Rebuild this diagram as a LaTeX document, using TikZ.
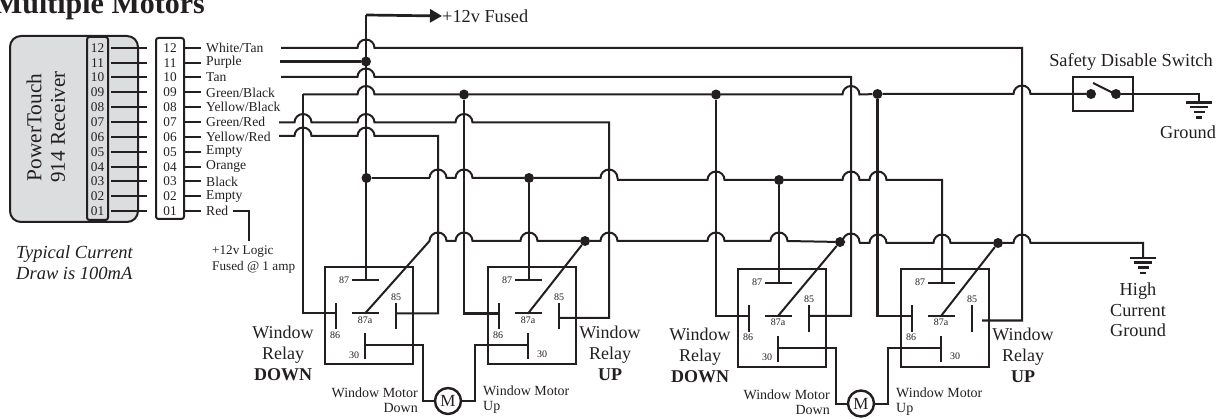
\documentclass[tikz,border=0pt]{standalone}
\usepackage{fontspec}
\setmainfont{Liberation Serif}
\usetikzlibrary{arrows.meta}
\definecolor{ink}{HTML}{231F20}
\definecolor{boxgray}{HTML}{DCDDDE}
\newcommand{\fs}[1]{\fontsize{#1}{#1}\selectfont}
\newcommand{\hp}[2]{-- (#1-8.5,#2) arc[start angle=180,end angle=360,radius=8.5]}
\tikzset{
  wire/.style={draw=ink,line width=2pt,line join=miter},
  heavy/.style={draw=ink,line width=2.4pt},
  dot/.style={circle,fill=ink,inner sep=0pt,minimum size=10pt},
  txt/.style={text=ink,inner sep=0pt,font=\fs{13.6}},
  pinlab/.style={text=ink,inner sep=0pt,font=\fs{10}},
  biglab/.style={text=ink,inner sep=0pt,align=center,font=\fontsize{18}{21}\selectfont},
  motorlab/.style={text=ink,inner sep=0pt,font=\fontsize{14}{15}\selectfont},
  num/.style={text=ink,inner sep=0pt,font=\fs{13.3}},
  gndbar/.style={draw=ink,line width=2.2pt},
  relaybox/.style={draw=ink,line width=2pt,minimum width=88pt,minimum height=97pt,inner sep=0pt},
}
% #1 name, #2 left, #3 top, #4 x of 30 label offset, #5 y of 30 label offset
\newcommand{\relay}[5]{%
  \node[relaybox,anchor=north west] (#1) at (#2,#3) {};
  \coordinate (#1-87) at (#2+42,#3+14.5);
  \coordinate (#1-87a) at (#2+41,#3+47.5);
  \coordinate (#1-85) at (#2+72,#3+47.5);
  \coordinate (#1-86) at (#2+12,#3+47.5);
  \coordinate (#1-30) at (#2+41,#3+79);
  \draw[wire] (#2+28,#3+14.5) -- (#2+55,#3+14.5);
  \draw[wire] (#2+28,#3+47.5) -- (#2+55,#3+47.5);
  \draw[heavy,line width=2.2pt] (#2+72,#3+37) -- (#2+72,#3+63);
  \draw[heavy,line width=2.2pt] (#2+12,#3+37) -- (#2+12,#3+63);
  \draw[heavy,line width=2.2pt] (#2+41,#3+67) -- (#2+41,#3+93);
  \node[pinlab] (#1-l87) at (#2+20,#3+14) {87};
  \node[pinlab] (#1-l87a) at (#2+41,#3+54) {87a};
  \node[pinlab] (#1-l85) at (#2+72,#3+31) {85};
  \node[pinlab] (#1-l86) at (#2+11,#3+69) {86};
  \node[pinlab] (#1-l30) at (#2+#4,#3+#5) {30};
}
\newcommand{\gnd}[3]{%
  \coordinate (#1) at (#2,#3);
  \draw[gndbar] (#2-13,#3) -- (#2+13,#3);
  \draw[gndbar] (#2-9,#3+4.5) -- (#2+9,#3+4.5);
  \draw[gndbar] (#2-5.5,#3+9.5) -- (#2+5.5,#3+9.5);
  \draw[gndbar] (#2-3.3,#3+15) -- (#2+3.3,#3+15);
}
\begin{document}
\begin{tikzpicture}[x=1pt,y=-1pt]
\useasboundingbox (0,0) rectangle (1225,419);

\node[text=ink,inner sep=0pt,anchor=base east,font=\fs{30}\bfseries] (title) at (205,14) {Multiple Motors};

% receiver
\draw[draw=ink,fill=boxgray,line width=2pt,rounded corners=11pt] (10,36) rectangle (138,222);
\node[draw=ink,line width=2pt,rounded corners=2.5pt,minimum width=21pt,minimum height=183pt,inner sep=0pt] (lbox) at (97.5,128.5) {};
\node[draw=ink,line width=2pt,rounded corners=2.5pt,fill=white,minimum width=28pt,minimum height=181pt,inner sep=0pt] (rbox) at (170,128.5) {};
\node[text=ink,inner sep=0pt,rotate=90,font=\fs{21.3}] (rx1) at (34,127.5) {PowerTouch};
\node[text=ink,inner sep=0pt,rotate=90,font=\fs{21}] (rx2) at (58,127) {914 Receiver};

\foreach \n/\rn/\w/\y in {12/12/White\slash Tan/48,11/11/Purple/62.7,10/10/Tan/77.5,09/09/Green\slash Black/92.5,08/08/Yellow\slash Black/107.2,07/07/Green\slash Red/122,06/06/Yellow\slash Red/137,05/05/Empty/152,04/04/Orange/166.7,03/03/Black/181.5,02/02/Empty/196.5,01/01/Red/211}{
  \node[num,minimum width=21pt] (l\n) at (97.5,\y) {\n};
  \node[num,minimum width=28pt] (r\n) at (170,\y) {\rn};
  \node[txt,anchor=west] (lab\n) at (206,\y) {\w};
  \draw[wire,shorten <=3pt,shorten >=9pt] (l\n.east) -- (r\n.west);
  \draw[wire,shorten >=5pt] (r\n.east) -- (lab\n.west);
}
\coordinate (logicend) at (249,241);
\draw[wire,shorten <=5pt] (lab01.east) -| (logicend);

% relays
\relay{Ra}{324}{266}{30}{89}
\relay{Rb}{487}{266}{55}{88}
\relay{Rc}{737}{268.5}{30}{89}
\relay{Rd}{900}{268.5}{55}{88}

% junctions
\node[dot] (jp) at (366,61.5) {};
\node[dot] (jl) at (366.5,178) {};
\node[dot] (jg1) at (464,94.5) {};
\node[dot] (jg2) at (716,94.5) {};
\node[dot] (jg3) at (877.5,94) {};
\node[dot] (jl2) at (529,178) {};
\node[dot] (jl3) at (779,180) {};
\node[dot] (jc2) at (585,241) {};
\node[dot] (jc3) at (840,242) {};
\node[dot] (jc4) at (998,243) {};

% switch and fused output
\node[draw=ink,line width=2pt,minimum width=60pt,minimum height=34pt,inner sep=0pt] (sw) at (1103,94) {};
\node[dot] (sa) at (1091,94) {};
\node[dot] (sb) at (1116,94) {};
\draw[wire] (1093,83) -- (1113,93);
\node[text=ink,inner sep=0pt,font=\fs{18.4}] (swl) at (1131,62) {Safety Disable Switch};
\node[text=ink,inner sep=0pt,anchor=west,font=\fs{18.3}] (fused) at (442,16) {+12v Fused};

% grounds
\gnd{gA}{1199}{102.5}
\gnd{gB}{1143}{258}
\node[text=ink,inner sep=0pt,font=\fs{18.3}] (gl1) at (1188,132) {Ground};
\node[text=ink,inner sep=0pt,align=center,font=\fontsize{18.3}{20.5}\selectfont] (gl2) at (1138,310) {High\\Current\\Ground};

% verticals from the power rails
\draw[heavy,line width=2.2pt] (Ra-87) -- (366,15);
\draw[heavy,line width=2.7pt,-{Triangle[length=12pt,width=13pt]}] (366,15) -- (fused.west);
\draw[heavy,line width=2.8pt] (jp) -- (280,61.5);
\draw[heavy] (jg1) -- (464,313.5) -- (Rb-86);
\draw[wire] (303,94.5) -- (303,313.5) -- (Ra-86);
\draw[heavy] (jg2) -- (716,316) -- (Rc-86);
\draw[heavy] (jg3) -- (877.5,316) -- (Rd-86);
\draw[heavy] (jl2) -- (Rb-87);
\draw[heavy] (jl3) -- (Rc-87);

% horizontal harness
\coordinate (wt) at (281,48);
\coordinate (rd85) at (982,320.5);
\draw[wire] (wt) \hp{366}{48} -- (1022,48) -- (1022,320.5) -- (rd85);
\coordinate (tn) at (281,77);
\draw[wire] (tn) \hp{366}{77} -- (851,77) -- (851,316) -- (Rc-85);
\draw[wire] (303,94.5) \hp{366}{94.5} -- (jg1) -- (jg2) \hp{851}{94.5} -- (jg3) \hp{1022}{94} -- (sa);
\draw[heavy,line width=2.7pt] (1030.5,94) -- (sa);
\draw[wire] (sb) -- (1199,94) -- (gA);
\coordinate (gr) at (279,122.5);
\draw[wire] (gr) \hp{303}{122.5} \hp{366}{122.5} \hp{464}{122.5} -- (609,122.5) -- (609,318) -- (559,318);
\coordinate (yr) at (279,136);
\draw[wire] (yr) \hp{303}{136} \hp{366}{136} -- (438,136) -- (438,313.5) -- (Ra-85);
\draw[heavy,line width=2.7pt] (jl) -- (429.5,178);
\draw[wire] (429.5,178) \hp{438}{178} \hp{464}{178} -- (jl2) \hp{609}{178} -- (618,180) \hp{716}{180} -- (jl3) \hp{851}{180} \hp{878}{180} -- (942,180) -- (Rd-87);
\draw[wire] (Ra-87a) -- (429.5,241) \hp{438}{241} \hp{464}{241} \hp{529}{241} -- (jc2) \hp{609}{241} \hp{716}{241} \hp{779}{241} -- (jc3) \hp{851}{242} -- (860,243) \hp{878}{243} \hp{942}{243} -- (jc4) \hp{1022}{243} -- (1143,243) -- (gB);
\draw[wire] (Rb-87a) -- (jc2);
\draw[wire] (Rc-87a) -- (jc3);
\draw[wire] (Rd-87a) -- (jc4);

% motors
\node[circle,draw=ink,line width=2.4pt,minimum size=26pt,inner sep=0pt,text=ink,font=\fs{17}] (M1) at (448,401) {M};
\node[circle,draw=ink,line width=2.4pt,minimum size=26pt,inner sep=0pt,text=ink,font=\fs{17}] (M2) at (861,403.5) {M};
\draw[wire] (Ra-30) -- (423,345) |- (M1.west);
\draw[wire] (Rb-30) -- (475,345) |- (M1.east);
\draw[wire] (Rc-30) -- (836,347.5) |- (M2.west);
\draw[wire] (Rd-30) -- (888,347.5) |- (M2.east);

% labels
\node[biglab] (wa) at (283,353) {Window\\Relay\\\textbf{DOWN}};
\node[biglab] (wb) at (610,353) {Window\\Relay\\\textbf{UP}};
\node[biglab] (wc) at (700,355) {Window\\Relay\\\textbf{DOWN}};
\node[biglab] (wd) at (1023,355) {Window\\Relay\\\textbf{UP}};
\node[motorlab,align=right,anchor=east] (ma) at (418,400) {Window Motor\\Down};
\node[motorlab,align=left,anchor=west] (mb) at (483,400) {Window Motor\\Up};
\node[motorlab,align=right,anchor=east] (mc) at (830,402) {Window Motor\\Down};
\node[motorlab,align=left,anchor=west] (md) at (896,402) {Window Motor\\Up};
\node[text=ink,inner sep=0pt,align=left,anchor=west,font=\fontsize{18.5}{21}\selectfont\itshape] (tc) at (16,263) {Typical Current\\Draw is 100mA};
\node[text=ink,inner sep=0pt,align=left,anchor=west,font=\fontsize{13.2}{15.5}\selectfont] (lg) at (212,259.5) {+12v Logic\\Fused @ 1 amp};
\end{tikzpicture}
\end{document}
